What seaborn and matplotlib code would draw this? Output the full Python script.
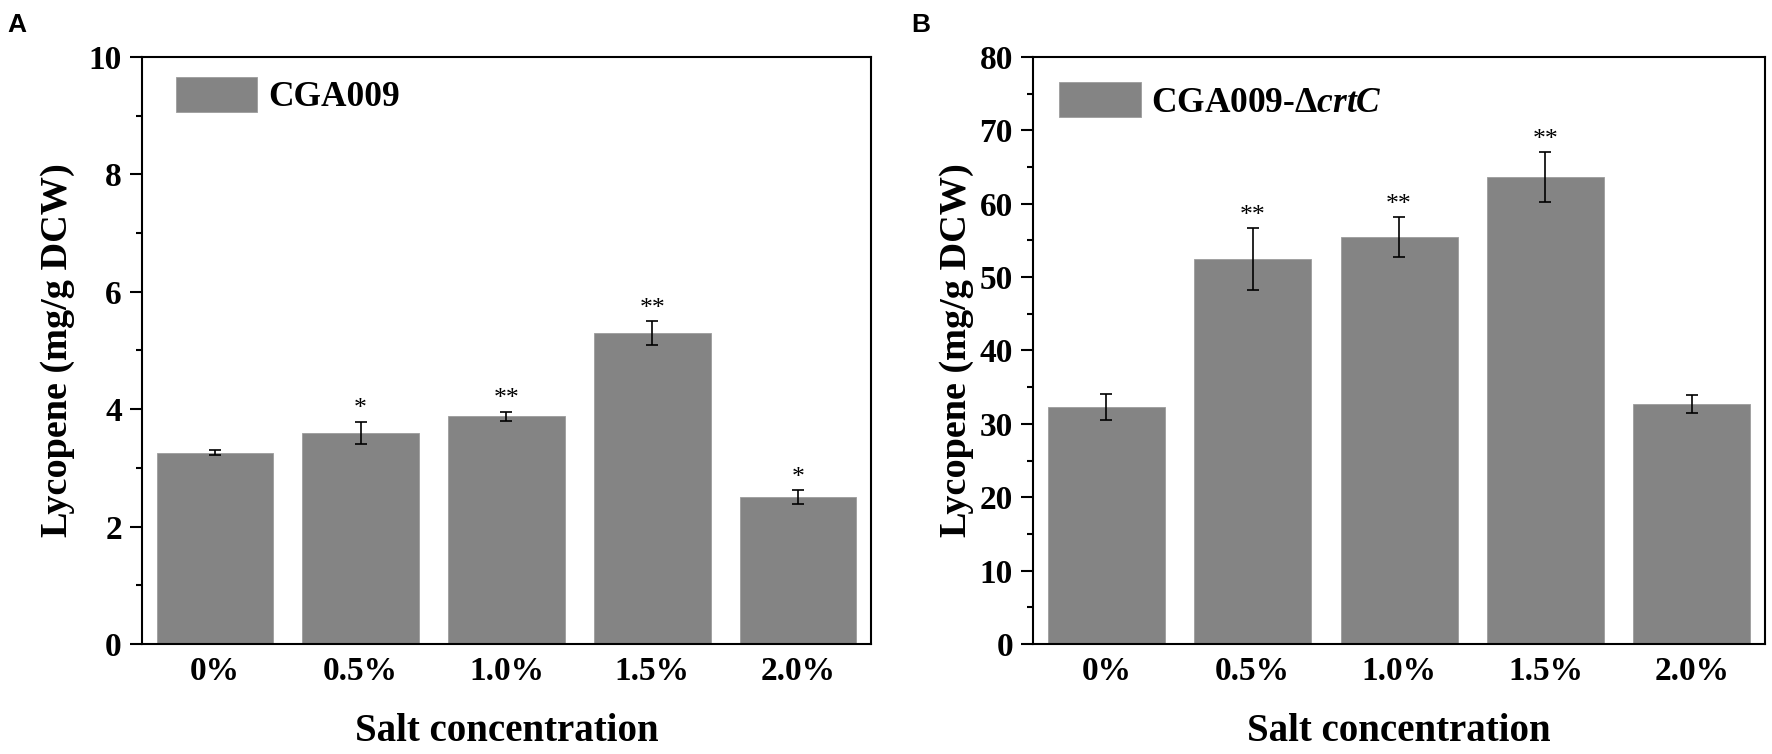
import numpy as np
import pandas as pd
import seaborn as sns
import matplotlib
matplotlib.use("Agg")
import matplotlib.pyplot as plt
from matplotlib.patches import Patch
from matplotlib.ticker import MultipleLocator

sns.set_style("ticks")
plt.rcParams['font.family'] = ['Liberation Serif', 'DejaVu Serif']
plt.rcParams['font.weight'] = 'bold'
plt.rcParams['mathtext.fontset'] = 'custom'
plt.rcParams['mathtext.rm'] = 'Liberation Serif:bold'
plt.rcParams['mathtext.it'] = 'Liberation Serif:bold:italic'
for key in ['text.color', 'axes.labelcolor', 'xtick.color', 'ytick.color',
            'axes.edgecolor']:
    plt.rcParams[key] = 'black'

# %% data
salt = ['0%', '0.5%', '1.0%', '1.5%', '2.0%']

wt_mean = [3.26, 3.60, 3.88, 5.30, 2.50]
wt_err = [0.04, 0.19, 0.08, 0.20, 0.12]
wt_sig = ['', '*', '**', '**', '*']

crtc_mean = [32.3, 52.5, 55.5, 63.6, 32.7]
crtc_err = [1.8, 4.2, 2.7, 3.4, 1.2]
crtc_sig = ['', '**', '**', '**', '']

BAR = '#848484'


def panel(ax, means, errs, sig, label, ymax, major, legend_xy, ylab_x):
    df = pd.DataFrame({'salt': salt, 'value': means})
    sns.barplot(data=df, x='salt', y='value', color=BAR, saturation=1,
                width=0.8, errorbar=None, edgecolor='#9c9c9c', linewidth=0.6,
                ax=ax)
    ax.errorbar(np.arange(len(salt)), means, yerr=errs, fmt='none',
                ecolor='black', elinewidth=1.2, capsize=4.6, capthick=1.2)
    for i, s in enumerate(sig):
        if s:
            ax.annotate(s, (i, means[i] + errs[i]), xytext=(0, 4.5),
                        textcoords='offset points', ha='center', va='baseline',
                        fontsize=18.5, fontweight='normal')

    ax.set_xlim(-0.5, len(salt) - 0.5)
    ax.set_ylim(0, ymax)
    ax.yaxis.set_major_locator(MultipleLocator(major))
    ax.yaxis.set_minor_locator(MultipleLocator(major / 2))
    ax.tick_params(axis='y', which='major', length=8.5, width=1.5, pad=6,
                   labelsize=24, direction='out')
    ax.tick_params(axis='y', which='minor', length=4.5, width=1.5,
                   direction='out')
    ax.tick_params(axis='x', length=0, pad=9, labelsize=24)
    for sp in ax.spines.values():
        sp.set_linewidth(1.5)
        sp.set_color('black')

    ax.set_xlabel('Salt concentration', fontsize=28, fontweight='bold')
    ax.set_ylabel('Lycopene (mg/g DCW)', fontsize=27.5, fontweight='bold')
    ax.xaxis.set_label_coords(0.5, -0.117)
    ax.yaxis.set_label_coords(ylab_x, 0.5)

    handle = Patch(facecolor=BAR, edgecolor='#9c9c9c', linewidth=0.6)
    ax.legend(handles=[handle], labels=[label], loc='upper left',
              bbox_to_anchor=legend_xy, frameon=False, borderpad=0,
              borderaxespad=0, handlelength=2.3, handleheight=1.13,
              handletextpad=0.3, prop={'size': 25.5, 'weight': 'bold'})


fig = plt.figure(figsize=(17.72, 7.54), dpi=100)
ax1 = fig.add_axes([0.0801, 0.1459, 0.4114, 0.7785])
ax2 = fig.add_axes([0.5830, 0.1459, 0.4131, 0.7785])

panel(ax1, wt_mean, wt_err, wt_sig, 'CGA009', 10, 2,
      (0.0466, 0.966), -0.0919)
panel(ax2, crtc_mean, crtc_err, crtc_sig, r'CGA009-Δ$\mathit{crtC}$', 80, 10,
      (0.0355, 0.957), -0.0806)

fig.text(0.004, 0.9576, 'A', fontsize=19, fontweight='bold',
         family=['Liberation Sans', 'DejaVu Sans'], va='baseline')
fig.text(0.514, 0.9576, 'B', fontsize=19, fontweight='bold',
         family=['Liberation Sans', 'DejaVu Sans'], va='baseline')

fig.savefig('out.png', dpi=100)
